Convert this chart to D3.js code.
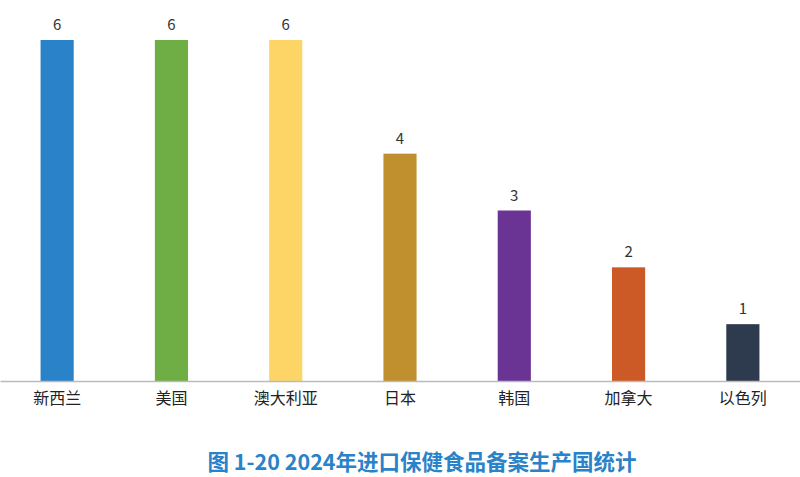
<!DOCTYPE html>
<html><head><meta charset="utf-8">
<script src="https://cdn.jsdelivr.net/npm/d3@7"></script>
<style>body{margin:0;background:#fff}</style></head>
<body><svg id="c" width="800" height="477"></svg>
<script>
const categories=["新西兰","美国","澳大利亚","日本","韩国","加拿大","以色列"];
const values=[6,6,6,4,3,2,1];
const colors=["#2a82c8","#6fad45","#fdd466","#c0902f","#6a3494","#cc5a26","#2e3a4e"];
const title="图 1-20 2024年进口保健食品备案生产国统计";
const svg=d3.select("#c");
const x=d3.scaleBand().domain(categories).range([0,800]).paddingInner(0.71).paddingOuter(0.355);
const y=d3.scaleLinear().domain([0,6]).range([381,40]);
const f="'Noto Sans CJK SC','Noto Sans',sans-serif";
svg.selectAll("rect").data(values).join("rect")
 .attr("x",(d,i)=>x(categories[i])).attr("width",x.bandwidth())
 .attr("y",d=>y(d)).attr("height",d=>y(0)-y(d)).attr("fill",(d,i)=>colors[i]);
svg.selectAll(".v").data(values).join("text")
 .attr("x",(d,i)=>x(categories[i])+x.bandwidth()/2).attr("y",d=>y(d)-10)
 .attr("text-anchor","middle").attr("font-family",f).attr("font-size",15).attr("fill","#333").text(d=>d);
const ax=svg.append("g").attr("transform","translate(0,381)").call(d3.axisBottom(x).tickSize(0).tickPadding(12));
ax.select(".domain").attr("stroke","#bbb").attr("stroke-width",1.5);
ax.selectAll("text").attr("font-family",f).attr("font-size",16).attr("fill","#222");
svg.append("text").attr("x",422).attr("y",470).attr("text-anchor","middle").attr("font-family",f)
 .attr("font-weight","bold").attr("font-size",21.5).attr("fill","#2a82c8").text(title);
</script></body></html>
